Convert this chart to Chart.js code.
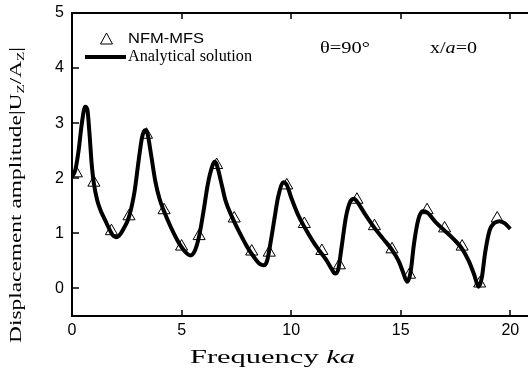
<!DOCTYPE html>
<html>
<head>
<meta charset="utf-8">
<script src="https://cdn.jsdelivr.net/npm/chart.js@4.4.1/dist/chart.umd.min.js"></script>
<style>
  html, body { margin: 0; padding: 0; background: #fff; }
</style>
</head>
<body>
<canvas id="chart" width="528" height="369"></canvas>
<script>
// NFM-MFS results (triangles)
const kaPoints = [0.2, 1.0, 1.8, 2.6, 3.4, 4.2, 5.0, 5.8, 6.6, 7.4, 8.2, 9.0, 9.8,
  10.6, 11.4, 12.2, 13.0, 13.8, 14.6, 15.4, 16.2, 17.0, 17.8, 18.6, 19.4];
const nfmMfs = [2.09, 1.92, 1.04, 1.31, 2.79, 1.42, 0.76, 0.95, 2.24, 1.27, 0.67, 0.65, 1.87,
  1.17, 0.68, 0.42, 1.61, 1.13, 0.71, 0.25, 1.42, 1.09, 0.76, 0.09, 1.27];

// analytical solution (solid line)
const kaLine = [0, 0.15, 0.3, 0.45, 0.6, 0.7, 0.8, 0.9, 1.0, 1.15, 1.3, 1.5, 1.7, 1.85, 2.0, 2.15, 2.35,
  2.6, 2.85, 3.05, 3.2, 3.33, 3.45, 3.6, 3.8, 4.0, 4.2, 4.5, 4.8, 5.0, 5.2, 5.4, 5.6, 5.8,
  6.0, 6.2, 6.4, 6.5, 6.6, 6.85, 7.0, 7.3, 7.6, 8.0, 8.3, 8.55, 8.75, 8.9, 9.1, 9.25, 9.4,
  9.65, 9.8, 10.0, 10.3, 10.6, 11.0, 11.3, 11.6, 11.85, 12.0, 12.15, 12.3, 12.5, 12.7, 12.87,
  13.0, 13.4, 13.8, 14.2, 14.6, 14.9, 15.1, 15.3, 15.45, 15.6, 15.8, 16.0, 16.2, 16.6, 17.0,
  17.4, 17.8, 18.1, 18.35, 18.55, 18.7, 18.85, 19.05, 19.25, 19.5, 19.75, 20.0];
const analytical = [2.03, 2.15, 2.5, 3.0, 3.3, 3.25, 2.8, 2.25, 1.9, 1.6, 1.42, 1.25, 1.08, 0.97, 0.93, 0.96, 1.08,
  1.3, 1.75, 2.35, 2.75, 2.87, 2.8, 2.45, 1.95, 1.62, 1.4, 1.12, 0.88, 0.75, 0.65, 0.6, 0.68, 0.95,
  1.4, 1.9, 2.22, 2.3, 2.25, 1.85, 1.6, 1.3, 1.05, 0.75, 0.57, 0.45, 0.42, 0.5, 0.93, 1.3, 1.65,
  1.93, 1.88, 1.65, 1.35, 1.12, 0.85, 0.68, 0.52, 0.35, 0.27, 0.35, 0.75, 1.3, 1.58, 1.63,
  1.58, 1.33, 1.1, 0.9, 0.7, 0.5, 0.3, 0.12, 0.3, 0.8, 1.25, 1.4, 1.38, 1.2, 1.05,
  0.9, 0.72, 0.5, 0.25, 0.03, 0.2, 0.65, 1.05, 1.18, 1.22, 1.18, 1.08];

const xTicks = [0, 5, 10, 15, 20];
const yTicks = [0, 1, 2, 3, 4, 5];

const SERIF = '"Liberation Serif", "Times New Roman", serif';
const SANS = '"Liberation Sans", Arial, sans-serif';

// draw a run of text pieces, stretched to a given width
function drawRich(ctx, parts, x, y, width) {
  let natural = 0;
  parts.forEach(p => { ctx.font = p.font; natural += ctx.measureText(p.text).width; });
  ctx.save();
  ctx.translate(x, y);
  ctx.scale(width / natural, 1);
  ctx.textBaseline = 'middle';
  ctx.textAlign = 'left';
  let cx = 0;
  parts.forEach(p => {
    ctx.font = p.font;
    ctx.fillText(p.text, cx, p.dy || 0);
    cx += ctx.measureText(p.text).width;
  });
  ctx.restore();
}

const decorations = {
  id: 'decorations',
  afterDraw(chart) {
    const ctx = chart.ctx;
    const a = chart.chartArea;
    const x = chart.scales.x, y = chart.scales.y;
    const L = Math.round(a.left), T = Math.round(a.top), B = Math.round(a.bottom), R = chart.width;
    ctx.save();
    ctx.fillStyle = '#000';

    // frame (no right edge)
    ctx.fillRect(L - 1, T - 1, R - L + 1, 2);
    ctx.fillRect(L - 1, B - 1, R - L + 1, 2);
    ctx.fillRect(L - 1, T - 1, 2, B - T + 2);

    // inward ticks
    xTicks.forEach(v => {
      const px = Math.round(x.getPixelForValue(v));
      ctx.fillRect(px - 0.75, B - 6, 1.5, 6);
      ctx.fillRect(px - 0.75, T, 1.5, 6);
    });
    yTicks.forEach(v => {
      const py = Math.round(y.getPixelForValue(v));
      ctx.fillRect(L, py - 0.75, 7, 1.5);
    });

    // tick labels
    ctx.font = '16px ' + SANS;
    ctx.textBaseline = 'middle';
    ctx.textAlign = 'center';
    xTicks.forEach(v => ctx.fillText(String(v), x.getPixelForValue(v), B + 15));
    ctx.textAlign = 'right';
    yTicks.forEach(v => ctx.fillText(String(v), L - 8, y.getPixelForValue(v)));

    // axis titles
    drawRich(ctx, [
      { text: 'Frequency ', font: '18px ' + SERIF },
      { text: 'ka', font: 'italic 18px ' + SERIF }
    ], 190, 358, 165);

    ctx.save();
    ctx.translate(17, 343);
    ctx.rotate(-Math.PI / 2);
    drawRich(ctx, [
      { text: 'Displacement amplitude|U', font: '17px ' + SERIF },
      { text: 'Z', font: '11px ' + SERIF, dy: 4 },
      { text: '/A', font: '17px ' + SERIF },
      { text: 'Z', font: '11px ' + SERIF, dy: 4 },
      { text: '|', font: '17px ' + SERIF }
    ], 0, 0, 296);
    ctx.restore();

    // legend
    ctx.strokeStyle = '#000';
    ctx.lineWidth = 1;
    ctx.beginPath();
    ctx.moveTo(106.5, 33);
    ctx.lineTo(112.5, 44);
    ctx.lineTo(100.5, 44);
    ctx.closePath();
    ctx.stroke();
    drawRich(ctx, [{ text: 'NFM-MFS', font: '14px ' + SANS }], 128, 39, 76);

    ctx.fillRect(85, 55, 41, 4);
    drawRich(ctx, [{ text: 'Analytical solution', font: '16px ' + SERIF }], 128, 57, 124);

    // annotations
    drawRich(ctx, [{ text: 'θ=90°', font: '16px ' + SERIF }], 320, 49, 50);
    drawRich(ctx, [
      { text: 'x/', font: '16px ' + SERIF },
      { text: 'a', font: 'italic 16px ' + SERIF },
      { text: '=0', font: '16px ' + SERIF }
    ], 430, 49, 47);

    ctx.restore();
  }
};

new Chart(document.getElementById('chart').getContext('2d'), {
  type: 'scatter',
  data: {
    datasets: [
      {
        label: 'NFM-MFS',
        data: kaPoints.map((v, i) => ({ x: v, y: nfmMfs[i] })),
        pointStyle: 'triangle',
        pointRadius: 7,
        borderColor: '#000',
        backgroundColor: 'rgba(0,0,0,0)',
        borderWidth: 1,
        order: 0
      },
      {
        label: 'Analytical solution',
        data: kaLine.map((v, i) => ({ x: v, y: analytical[i] })),
        showLine: true,
        borderColor: '#000',
        borderWidth: 4,
        pointRadius: 0,
        cubicInterpolationMode: 'monotone',
        order: 1
      }
    ]
  },
  options: {
    responsive: false,
    animation: false,
    layout: { padding: { left: 72, top: 13, right: 0, bottom: 53 } },
    plugins: { legend: { display: false }, tooltip: { enabled: false } },
    scales: {
      x: { type: 'linear', min: 0, max: 20.44, display: false },
      y: { type: 'linear', min: -0.5, max: 5, display: false }
    }
  },
  plugins: [decorations]
});
</script>
</body>
</html>
